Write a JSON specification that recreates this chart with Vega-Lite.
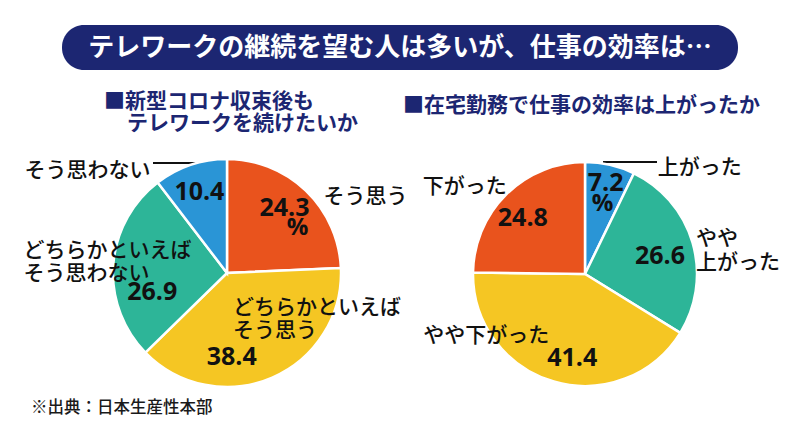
{
  "$schema": "https://vega.github.io/schema/vega-lite/v6.json",
  "width": 800,
  "height": 442,
  "autosize": {"type": "none"},
  "padding": 0,
  "background": "white",
  "config": {"view": {"stroke": null}, "font": "Noto Sans CJK JP"},
  "datasets": {
    "q1": [
      {"idx": 1, "cat": "そう思う", "v": 24.3, "lab": "そう思う"},
      {"idx": 2, "cat": "どちらかといえばそう思う", "v": 38.4, "lab": "どちらかといえば\nそう思う"},
      {"idx": 3, "cat": "どちらかといえばそう思わない", "v": 26.9, "lab": "どちらかといえば\nそう思わない"},
      {"idx": 4, "cat": "そう思わない", "v": 10.4, "lab": "そう思わない"}
    ],
    "q2": [
      {"idx": 1, "cat": "上がった", "v": 7.2, "lab": "上がった"},
      {"idx": 2, "cat": "やや上がった", "v": 26.6, "lab": "やや\n上がった"},
      {"idx": 3, "cat": "やや下がった", "v": 41.4, "lab": "やや下がった"},
      {"idx": 4, "cat": "下がった", "v": 24.8, "lab": "下がった"}
    ],
    "texts": [
      {"banner": "テレワークの継続を望む人は多いが、仕事の効率は…",
       "sub1a": "■新型コロナ収束後も",
       "sub1b": "テレワークを続けたいか",
       "sub2": "■在宅勤務で仕事の効率は上がったか",
       "note": "※出典：日本生産性本部"}
    ]
  },
  "layer": [
    {
      "data": {"name": "texts"},
      "layer": [
        {"mark": {"type": "rect", "x": 62, "x2": 738, "y": 25, "y2": 70, "cornerRadius": 22, "fill": "#1C2672"}, "encoding": {}},
        {"mark": {"type": "text", "x": 400, "y": 47.5, "align": "center", "baseline": "middle", "fontSize": 26, "fontWeight": "bold", "color": "white"}, "encoding": {"text": {"field": "banner"}}},
        {"mark": {"type": "text", "x": 104, "y": 102, "align": "left", "baseline": "middle", "fontSize": 21, "fontWeight": "bold", "color": "#1C2672"}, "encoding": {"text": {"field": "sub1a"}}},
        {"mark": {"type": "text", "x": 127, "y": 124, "align": "left", "baseline": "middle", "fontSize": 21, "fontWeight": "bold", "color": "#1C2672"}, "encoding": {"text": {"field": "sub1b"}}},
        {"mark": {"type": "text", "x": 403, "y": 106, "align": "left", "baseline": "middle", "fontSize": 21, "fontWeight": "bold", "color": "#1C2672"}, "encoding": {"text": {"field": "sub2"}}},
        {"mark": {"type": "text", "x": 31, "y": 408, "align": "left", "baseline": "middle", "fontSize": 16.5, "fontWeight": 500, "color": "#1a1a1a"}, "encoding": {"text": {"field": "note"}}},
        {"mark": {"type": "rule", "stroke": "#111", "strokeWidth": 2},
         "encoding": {"x": {"value": 153}, "x2": {"value": 203}, "y": {"value": 163}, "y2": {"value": 163}}},
        {"mark": {"type": "rule", "stroke": "#111", "strokeWidth": 2},
         "encoding": {"x": {"value": 603}, "x2": {"value": 657}, "y": {"value": 162}, "y2": {"value": 162}}}
      ]
    },
    {
      "data": {"name": "q1"},
      "encoding": {
        "theta": {"field": "v", "type": "quantitative", "stack": true},
        "order": {"field": "idx", "type": "quantitative"}
      },
      "layer": [
        {"mark": {"type": "arc", "x": 227, "y": 273, "outerRadius": 114, "stroke": "white", "strokeWidth": 2.5},
         "encoding": {"color": {"field": "cat", "type": "nominal", "legend": null,
           "scale": {"domain": ["そう思う", "どちらかといえばそう思う", "どちらかといえばそう思わない", "そう思わない", "上がった", "やや上がった", "やや下がった", "下がった"],
                     "range": ["#E9531D", "#F5C623", "#2DB598", "#2A95D6", "#2A95D6", "#2DB598", "#F5C623", "#E9531D"]}}}},
        {"mark": {"type": "text", "x": 227, "y": 273, "radius": 86, "dx": -2, "dy": -3, "fontSize": 25, "fontWeight": "bold", "font": "Open Sans", "color": "#111", "baseline": "middle"},
         "encoding": {"text": {"condition": {"test": "datum.idx == 1", "field": "v", "type": "quantitative", "format": ".1f"}, "value": ""}}},
        {"mark": {"type": "text", "x": 227, "y": 273, "radius": 86, "dx": 11, "dy": 17, "fontSize": 24, "fontWeight": "bold", "font": "Open Sans", "color": "#111", "baseline": "middle"},
         "encoding": {"text": {"condition": {"test": "datum.idx == 1", "value": "%"}, "value": ""}}},
        {"mark": {"type": "text", "x": 227, "y": 273, "radius": 86, "dx": 37, "dy": -14, "align": "left", "baseline": "middle", "fontSize": 21, "fontWeight": 500, "color": "#111", "lineBreak": "\n"},
         "encoding": {"text": {"condition": {"test": "datum.idx == 1", "field": "lab"}, "value": ""}}},
        {"mark": {"type": "text", "x": 227, "y": 273, "radius": 80, "dx": -27, "dy": 11, "fontSize": 25, "fontWeight": "bold", "font": "Open Sans", "color": "#111", "baseline": "middle"},
         "encoding": {"text": {"condition": {"test": "datum.idx == 2", "field": "v", "type": "quantitative", "format": ".1f"}, "value": ""}}},
        {"mark": {"type": "text", "x": 227, "y": 273, "radius": 40, "dx": -10, "dy": -2, "align": "left", "baseline": "middle", "fontSize": 21, "fontWeight": 500, "lineHeight": 23, "color": "#111", "lineBreak": "\n"},
         "encoding": {"text": {"condition": {"test": "datum.idx == 2", "field": "lab"}, "value": ""}}},
        {"mark": {"type": "text", "x": 227, "y": 273, "radius": 75, "dx": 0, "dy": 24, "fontSize": 25, "fontWeight": "bold", "font": "Open Sans", "color": "#111", "baseline": "middle"},
         "encoding": {"text": {"condition": {"test": "datum.idx == 3", "field": "v", "type": "quantitative", "format": ".1f"}, "value": ""}}},
        {"mark": {"type": "text", "x": 227, "y": 273, "radius": 200, "dx": -4, "dy": -8, "align": "left", "baseline": "middle", "fontSize": 21, "fontWeight": 500, "lineHeight": 23, "color": "#111", "lineBreak": "\n"},
         "encoding": {"text": {"condition": {"test": "datum.idx == 3", "field": "lab"}, "value": ""}}},
        {"mark": {"type": "text", "x": 227, "y": 273, "radius": 86, "fontSize": 25, "fontWeight": "bold", "font": "Open Sans", "color": "#111", "baseline": "middle"},
         "encoding": {"text": {"condition": {"test": "datum.idx == 4", "field": "v", "type": "quantitative", "format": ".1f"}, "value": ""}}},
        {"mark": {"type": "text", "x": 227, "y": 273, "radius": 86, "dx": -49, "dy": -21, "align": "right", "baseline": "middle", "fontSize": 21, "fontWeight": 500, "color": "#111", "lineBreak": "\n"},
         "encoding": {"text": {"condition": {"test": "datum.idx == 4", "field": "lab"}, "value": ""}}}
      ]
    },
    {
      "data": {"name": "q2"},
      "encoding": {
        "theta": {"field": "v", "type": "quantitative", "stack": true},
        "order": {"field": "idx", "type": "quantitative"}
      },
      "layer": [
        {"mark": {"type": "arc", "x": 585, "y": 274, "outerRadius": 112, "stroke": "white", "strokeWidth": 2.5},
         "encoding": {"color": {"field": "cat", "type": "nominal", "legend": null,
           "scale": {"domain": ["そう思う", "どちらかといえばそう思う", "どちらかといえばそう思わない", "そう思わない", "上がった", "やや上がった", "やや下がった", "下がった"],
                     "range": ["#E9531D", "#F5C623", "#2DB598", "#2A95D6", "#2A95D6", "#2DB598", "#F5C623", "#E9531D"]}}}},
        {"mark": {"type": "text", "x": 585, "y": 274, "radius": 92, "dy": -1, "fontSize": 25, "fontWeight": "bold", "font": "Open Sans", "color": "#111", "baseline": "middle"},
         "encoding": {"text": {"condition": {"test": "datum.idx == 1", "field": "v", "type": "quantitative", "format": ".1f"}, "value": ""}}},
        {"mark": {"type": "text", "x": 585, "y": 274, "radius": 92, "dx": -3, "dy": 20, "fontSize": 24, "fontWeight": "bold", "font": "Open Sans", "color": "#111", "baseline": "middle"},
         "encoding": {"text": {"condition": {"test": "datum.idx == 1", "value": "%"}, "value": ""}}},
        {"mark": {"type": "text", "x": 585, "y": 274, "radius": 92, "dx": 52, "dy": -16, "align": "left", "baseline": "middle", "fontSize": 21, "fontWeight": 500, "color": "#111", "lineBreak": "\n"},
         "encoding": {"text": {"condition": {"test": "datum.idx == 1", "field": "lab"}, "value": ""}}},
        {"mark": {"type": "text", "x": 585, "y": 274, "radius": 76, "dx": 2, "dy": 3, "fontSize": 25, "fontWeight": "bold", "font": "Open Sans", "color": "#111", "baseline": "middle"},
         "encoding": {"text": {"condition": {"test": "datum.idx == 2", "field": "v", "type": "quantitative", "format": ".1f"}, "value": ""}}},
        {"mark": {"type": "text", "x": 585, "y": 274, "radius": 76, "dx": 38, "dy": -14, "align": "left", "baseline": "middle", "fontSize": 21, "fontWeight": 500, "lineHeight": 24, "color": "#111", "lineBreak": "\n"},
         "encoding": {"text": {"condition": {"test": "datum.idx == 2", "field": "lab"}, "value": ""}}},
        {"mark": {"type": "text", "x": 585, "y": 274, "radius": 85, "dx": 11, "dy": 2, "fontSize": 25, "fontWeight": "bold", "font": "Open Sans", "color": "#111", "baseline": "middle"},
         "encoding": {"text": {"condition": {"test": "datum.idx == 3", "field": "v", "type": "quantitative", "format": ".1f"}, "value": ""}}},
        {"mark": {"type": "text", "x": 585, "y": 274, "radius": 85, "dx": -138, "dy": -20, "align": "left", "baseline": "middle", "fontSize": 21, "fontWeight": 500, "color": "#111", "lineBreak": "\n"},
         "encoding": {"text": {"condition": {"test": "datum.idx == 3", "field": "lab"}, "value": ""}}},
        {"mark": {"type": "text", "x": 585, "y": 274, "radius": 80, "dx": -6, "dy": 1, "fontSize": 25, "fontWeight": "bold", "font": "Open Sans", "color": "#111", "baseline": "middle"},
         "encoding": {"text": {"condition": {"test": "datum.idx == 4", "field": "v", "type": "quantitative", "format": ".1f"}, "value": ""}}},
        {"mark": {"type": "text", "x": 585, "y": 274, "radius": 80, "dx": -106, "dy": -30, "align": "left", "baseline": "middle", "fontSize": 21, "fontWeight": 500, "color": "#111", "lineBreak": "\n"},
         "encoding": {"text": {"condition": {"test": "datum.idx == 4", "field": "lab"}, "value": ""}}}
      ]
    }
  ]
}
